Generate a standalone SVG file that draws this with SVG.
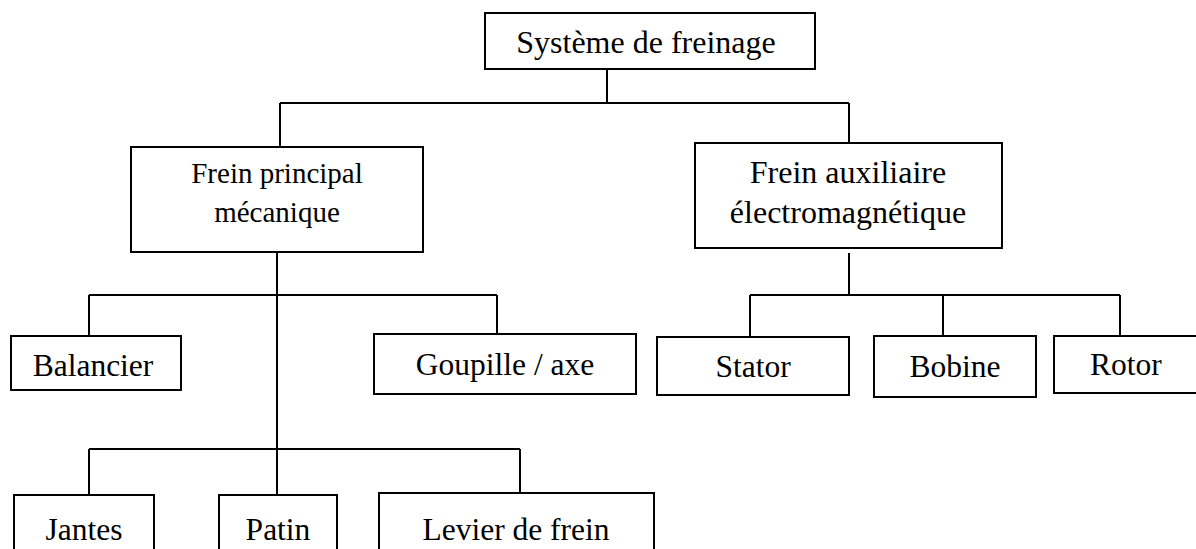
<svg xmlns="http://www.w3.org/2000/svg" width="1196" height="549" viewBox="0 0 1196 549">
<style>
rect{fill:#fff;stroke:#000;stroke-width:2}
line{stroke:#000;stroke-width:2}
text{font-family:"Liberation Serif","Times New Roman",serif;font-size:31.5px;fill:#000;text-anchor:middle}
</style>
<rect x="0" y="0" width="1196" height="549" style="stroke:none"/>
<g id="connectors">
<line x1="607" y1="69" x2="607" y2="103"/>
<line x1="280" y1="103" x2="849" y2="103"/>
<line x1="280" y1="103" x2="280" y2="147"/>
<line x1="849" y1="103" x2="849" y2="143"/>
<line x1="277" y1="252" x2="277" y2="449"/>
<line x1="89" y1="295" x2="497" y2="295"/>
<line x1="89" y1="295" x2="89" y2="336"/>
<line x1="497" y1="295" x2="497" y2="334"/>
<line x1="89" y1="449" x2="520" y2="449"/>
<line x1="89" y1="449" x2="89" y2="495"/>
<line x1="277" y1="449" x2="277" y2="495"/>
<line x1="520" y1="449" x2="520" y2="493"/>
<line x1="849" y1="253" x2="849" y2="295"/>
<line x1="750" y1="295" x2="1120" y2="295"/>
<line x1="750" y1="295" x2="750" y2="337"/>
<line x1="943" y1="295" x2="943" y2="336"/>
<line x1="1120" y1="295" x2="1120" y2="336"/>
</g>
<g id="n-systeme"><rect x="485" y="13" width="330" height="56"/><text x="646" y="53" style="font-size:32px">Système de freinage</text></g>
<g id="n-principal"><rect x="131" y="147" width="292" height="105"/><text x="277" y="183" style="font-size:29px">Frein principal</text><text x="277" y="222" style="font-size:29px">mécanique</text></g>
<g id="n-auxiliaire"><rect x="695" y="143" width="307" height="105"/><text x="848" y="183" style="font-size:32px">Frein auxiliaire</text><text x="848" y="223" style="font-size:32px">électromagnétique</text></g>
<g id="n-balancier"><rect x="11" y="336" width="170" height="54"/><text x="93" y="376">Balancier</text></g>
<g id="n-goupille"><rect x="374" y="334" width="262" height="60"/><text x="505" y="375">Goupille / axe</text></g>
<g id="n-stator"><rect x="657" y="337" width="192" height="58"/><text x="753" y="377">Stator</text></g>
<g id="n-bobine"><rect x="874" y="336" width="162" height="61"/><text x="955" y="377">Bobine</text></g>
<g id="n-rotor"><rect x="1054" y="336" width="150" height="57"/><text x="1126" y="375">Rotor</text></g>
<g id="n-jantes"><rect x="14" y="495" width="140" height="70"/><text x="84" y="540">Jantes</text></g>
<g id="n-patin"><rect x="219" y="495" width="118" height="70"/><text x="278" y="540">Patin</text></g>
<g id="n-levier"><rect x="379" y="493" width="275" height="70"/><text x="516" y="540">Levier de frein</text></g>
</svg>
